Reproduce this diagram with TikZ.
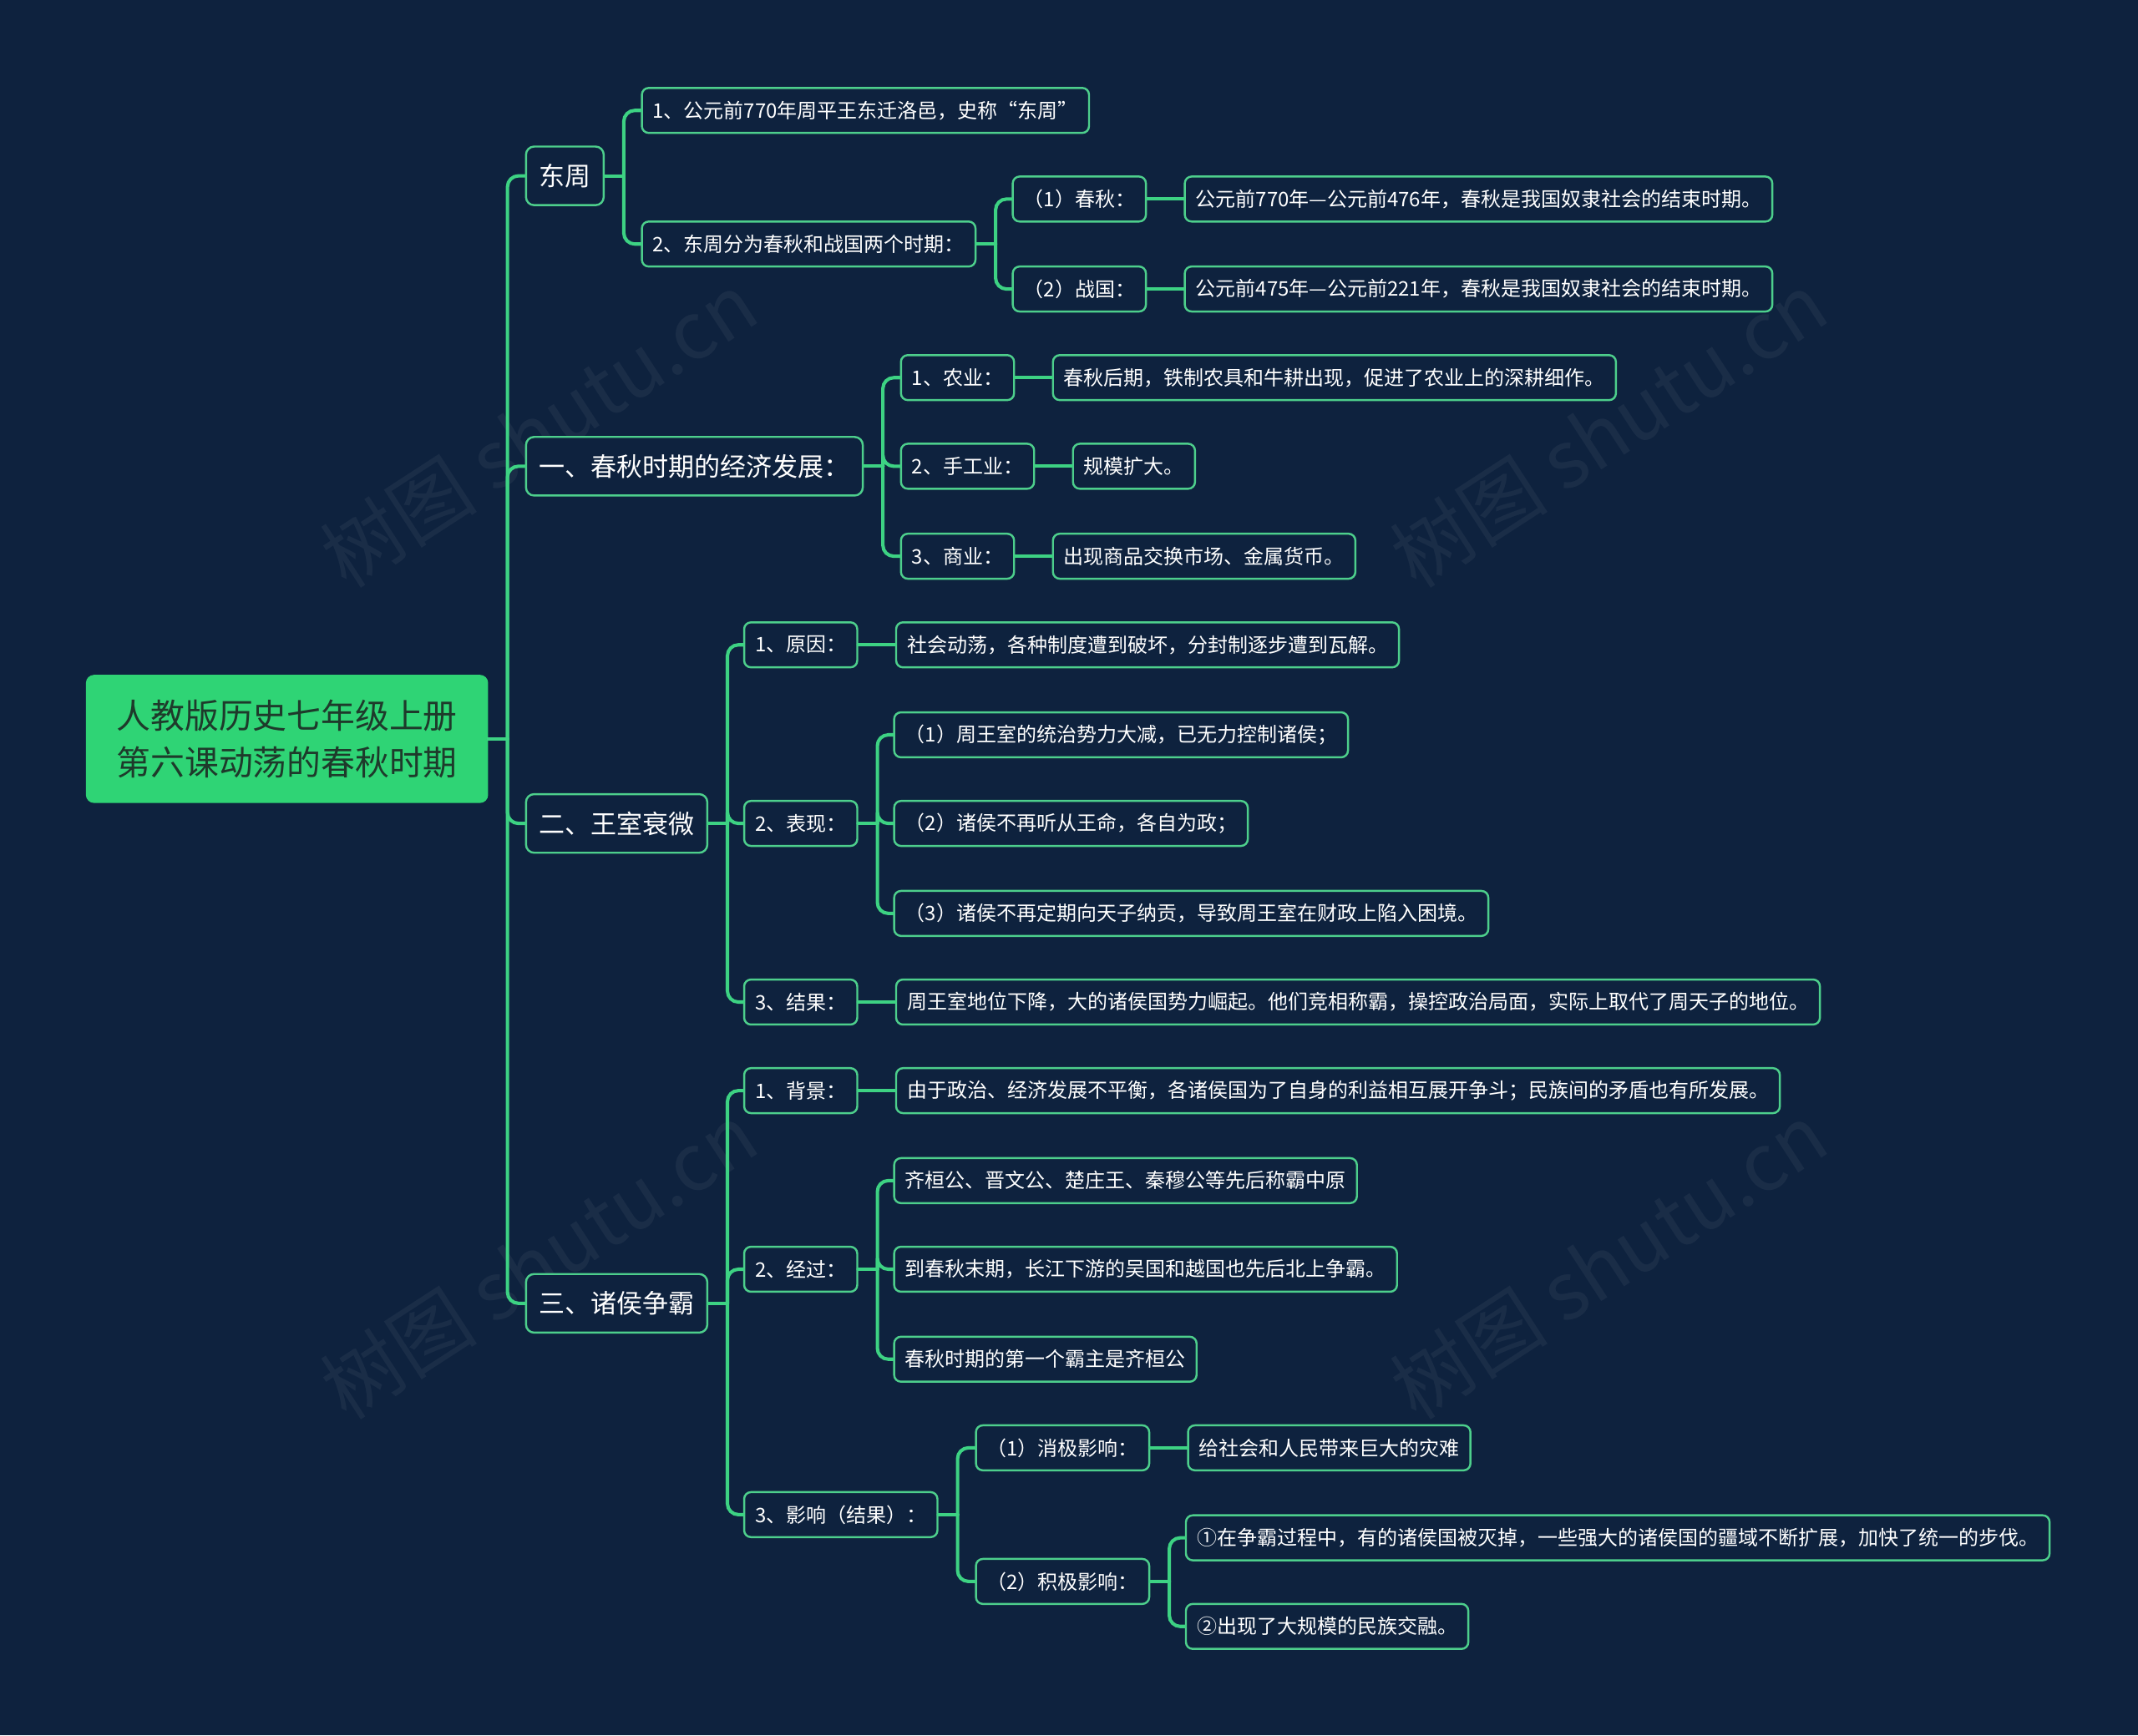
\documentclass[tikz,border=0pt]{standalone}
\usepackage{fontspec}
\setmainfont{Noto Sans CJK SC}
\usetikzlibrary{positioning}
\definecolor{NavyBg}{HTML}{0E223E}
\definecolor{MapGreen}{HTML}{2FD475}
\definecolor{EdgeGreen}{HTML}{4DCF8C}
\definecolor{LineGreen}{HTML}{3DD283}
\definecolor{RootInk}{HTML}{1E3A2B}
\tikzset{
  basebox/.style={
    draw=EdgeGreen,
    fill=NavyBg,
    text=white,
    line width=1.5pt,
    rounded corners=5pt,
    anchor=west
  },
  rootbox/.style={
    fill=MapGreen,
    text=RootInk,
    rounded corners=6pt,
    align=center,
    font=\fontsize{25}{34}\selectfont,
    minimum width=295pt,
    minimum height=94pt,
    inner sep=0pt
  },
  topicbox/.style={basebox, font=\fontsize{19}{23}\selectfont, minimum height=43pt, inner xsep=9.5pt, inner ysep=0pt, rounded corners=6pt},
  itembox/.style={basebox, font=\fontsize{14.7}{18}\selectfont, minimum height=33pt, inner xsep=8pt, inner ysep=0pt},
  link/.style={draw=LineGreen, line width=2.5pt, line cap=round},
  stamp/.style={text=white, opacity=0.05, font=\fontsize{58}{60}\selectfont, rotate=33}
}
\newcommand{\branch}[2]{%
  \draw[link] (#1.east) -- ++(14,0);
  \draw[link,rounded corners=8pt] (#1.east) ++(14,0) |- (#2.west);}

\begin{document}
\begin{tikzpicture}[x=1pt,y=-1pt]
  \fill[NavyBg] (0,0) rectangle (1568,1273);
  \useasboundingbox (0,0) rectangle (1568,1273);

  \node[stamp] (wmA) at (395,315) {树图 shutu.cn};
  \node[stamp] (wmB) at (1180,315) {树图 shutu.cn};
  \node[stamp] (wmC) at (395,925) {树图 shutu.cn};
  \node[stamp] (wmD) at (1180,925) {树图 shutu.cn};

  \node[rootbox] (root) at (210.5,542) {人教版历史七年级上册\\第六课动荡的春秋时期};

  \node[topicbox] (dongzhou) at (385,129) {东周};
  \node[topicbox] (econ) at (385,342) {一、春秋时期的经济发展：};
  \node[topicbox] (wangshi) at (385,604) {二、王室衰微};
  \node[topicbox] (zhengba) at (385,956) {三、诸侯争霸};
  \foreach \c in {dongzhou,econ,wangshi,zhengba} \branch{root}{\c};

  \node[itembox] (dzOne) at (470,81) {1、公元前770年周平王东迁洛邑，史称“东周”};
  \node[itembox] (dzTwo) at (470,179) {2、东周分为春秋和战国两个时期：};
  \foreach \c in {dzOne,dzTwo} \branch{dongzhou}{\c};
  \node[itembox] (chunqiu) at (742,146) {（1）春秋：};
  \node[itembox] (zhanguo) at (742,212) {（2）战国：};
  \foreach \c in {chunqiu,zhanguo} \branch{dzTwo}{\c};
  \node[itembox,right=27pt of chunqiu] (cqText) {公元前770年—公元前476年，春秋是我国奴隶社会的结束时期。};
  \node[itembox,right=27pt of zhanguo] (zgText) {公元前475年—公元前221年，春秋是我国奴隶社会的结束时期。};
  \draw[link] (chunqiu.east) -- (cqText.west);
  \draw[link] (zhanguo.east) -- (zgText.west);

  \node[itembox] (nongye) at (660,277) {1、农业：};
  \node[itembox] (shougong) at (660,342) {2、手工业：};
  \node[itembox] (shangye) at (660,408) {3、商业：};
  \foreach \c in {nongye,shougong,shangye} \branch{econ}{\c};
  \node[itembox,right=27pt of nongye] (nyText) {春秋后期，铁制农具和牛耕出现，促进了农业上的深耕细作。};
  \node[itembox,right=27pt of shougong] (sgText) {规模扩大。};
  \node[itembox,right=27pt of shangye] (syText) {出现商品交换市场、金属货币。};
  \draw[link] (nongye.east) -- (nyText.west);
  \draw[link] (shougong.east) -- (sgText.west);
  \draw[link] (shangye.east) -- (syText.west);

  \node[itembox] (yuanyin) at (545,473) {1、原因：};
  \node[itembox] (biaoxian) at (545,604) {2、表现：};
  \node[itembox] (jieguo) at (545,735) {3、结果：};
  \foreach \c in {yuanyin,biaoxian,jieguo} \branch{wangshi}{\c};
  \node[itembox,right=27pt of yuanyin] (yyText) {社会动荡，各种制度遭到破坏，分封制逐步遭到瓦解。};
  \draw[link] (yuanyin.east) -- (yyText.west);
  \node[itembox] (bxOne) at (655,539) {（1）周王室的统治势力大减，已无力控制诸侯；};
  \node[itembox] (bxTwo) at (655,604) {（2）诸侯不再听从王命，各自为政；};
  \node[itembox] (bxThree) at (655,670) {（3）诸侯不再定期向天子纳贡，导致周王室在财政上陷入困境。};
  \foreach \c in {bxOne,bxTwo,bxThree} \branch{biaoxian}{\c};
  \node[itembox,right=27pt of jieguo] (jgText) {周王室地位下降，大的诸侯国势力崛起。他们竞相称霸，操控政治局面，实际上取代了周天子的地位。};
  \draw[link] (jieguo.east) -- (jgText.west);

  \node[itembox] (beijing) at (545,800) {1、背景：};
  \node[itembox] (jingguo) at (545,931) {2、经过：};
  \node[itembox] (yingxiang) at (545,1111) {3、影响（结果）：};
  \foreach \c in {beijing,jingguo,yingxiang} \branch{zhengba}{\c};
  \node[itembox,right=27pt of beijing] (bjText) {由于政治、经济发展不平衡，各诸侯国为了自身的利益相互展开争斗；民族间的矛盾也有所发展。};
  \draw[link] (beijing.east) -- (bjText.west);
  \node[itembox] (jgOne) at (655,866) {齐桓公、晋文公、楚庄王、秦穆公等先后称霸中原};
  \node[itembox] (jgTwo) at (655,931) {到春秋末期，长江下游的吴国和越国也先后北上争霸。};
  \node[itembox] (jgThree) at (655,997) {春秋时期的第一个霸主是齐桓公};
  \foreach \c in {jgOne,jgTwo,jgThree} \branch{jingguo}{\c};
  \node[itembox] (xiaoji) at (715,1062) {（1）消极影响：};
  \node[itembox] (jiji) at (715,1160) {（2）积极影响：};
  \foreach \c in {xiaoji,jiji} \branch{yingxiang}{\c};
  \node[itembox,right=27pt of xiaoji] (xjText) {给社会和人民带来巨大的灾难};
  \draw[link] (xiaoji.east) -- (xjText.west);
  \node[itembox] (jjOne) at (869,1128) {①在争霸过程中，有的诸侯国被灭掉，一些强大的诸侯国的疆域不断扩展，加快了统一的步伐。};
  \node[itembox] (jjTwo) at (869,1193) {②出现了大规模的民族交融。};
  \foreach \c in {jjOne,jjTwo} \branch{jiji}{\c};
\end{tikzpicture}
\end{document}
